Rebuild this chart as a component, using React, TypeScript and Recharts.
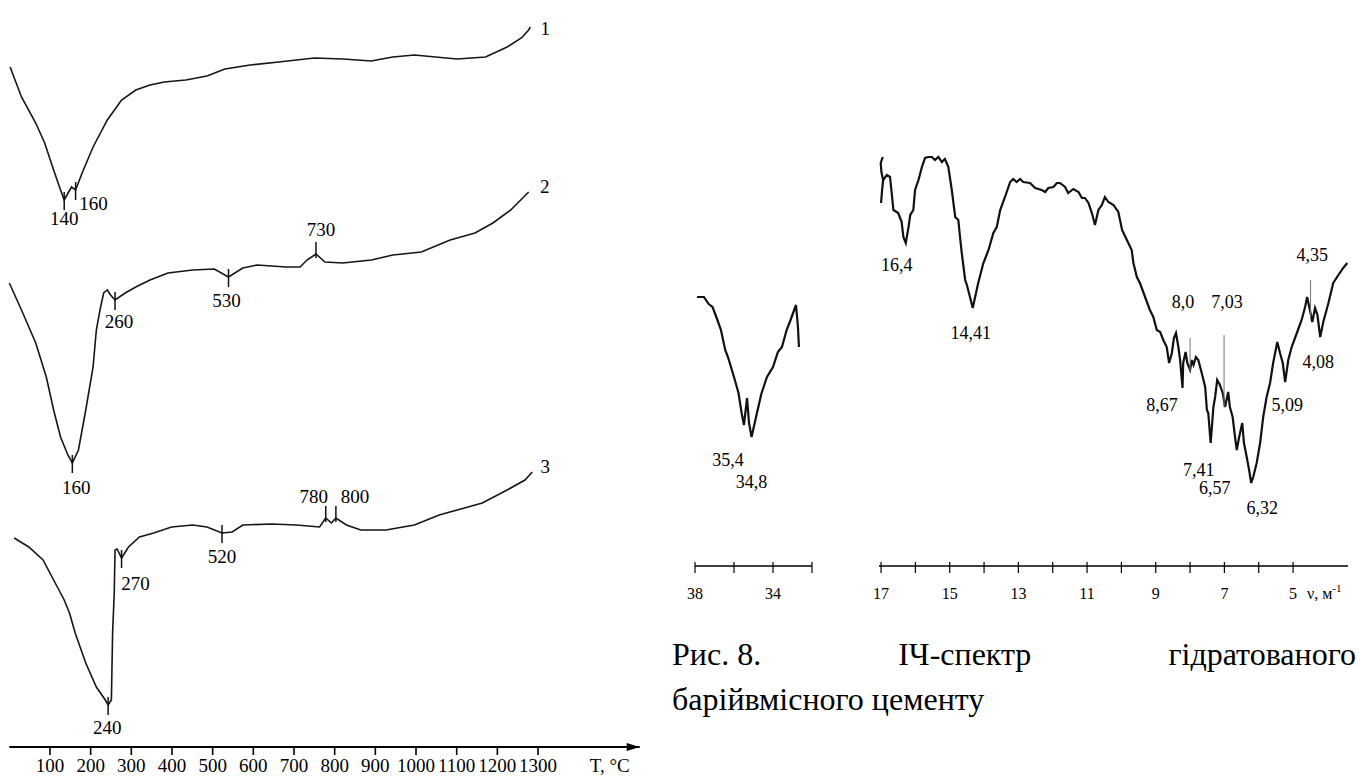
import React from "react";
import { LineChart, Line, XAxis, YAxis, ReferenceDot, ReferenceLine } from "recharts";

const SERIF = "Liberation Serif, Tinos, DejaVu Serif, serif";

// ---------- DTA curves (left): temperature, °C -> signal, arb. units
const tempTicks = [100, 200, 300, 400, 500, 600, 700, 800, 900, 1000, 1100, 1200, 1300];

const dta1: [number, number][] = [
  [2, 68.0], [30, 65.0], [65, 62.4], [87, 60.4], [109, 57.7], [126, 55.7], [135, 54.7],
  [146, 55.5], [153, 56.0], [163, 55.7], [179, 57.4], [206, 60.0], [241, 62.7], [276, 64.7],
  [311, 65.7], [346, 66.2], [381, 66.5], [434, 66.7], [486, 67.1], [530, 67.8], [592, 68.2],
  [662, 68.5], [750, 68.9], [820, 68.8], [890, 68.6], [943, 69.0], [996, 69.2], [1048, 69.0],
  [1101, 68.8], [1171, 69.0], [1224, 70.0], [1259, 70.9], [1277, 71.7], [1281, 72.0],
];

const dta2: [number, number][] = [
  [0, 46.4], [30, 43.7], [65, 40.4], [91, 37.0], [109, 33.7], [126, 31.0], [144, 29.2],
  [155, 28.4], [170, 29.7], [188, 33.7], [206, 38.0], [214, 41.7], [223, 43.7], [232, 45.4],
  [241, 45.7], [249, 45.2], [260, 44.7], [285, 45.4], [311, 46.0], [346, 46.7], [390, 47.4],
  [451, 47.7], [504, 47.8], [539, 47.0], [574, 47.9], [609, 48.2], [680, 48.0], [715, 48.0],
  [732, 48.7], [754, 49.3], [776, 48.5], [820, 48.4], [890, 48.7], [943, 49.2], [1013, 49.5],
  [1084, 50.7], [1145, 51.4], [1189, 52.4], [1233, 53.7], [1277, 55.5],
];

const dta3: [number, number][] = [
  [12, 20.9], [48, 20.0], [83, 18.7], [109, 16.7], [135, 14.7], [148, 13.4], [162, 11.4],
  [188, 8.4], [214, 6.0], [236, 4.7], [243, 4.2], [251, 4.7], [254, 11.4], [258, 15.4],
  [260, 19.7], [265, 19.8], [276, 18.9], [293, 20.0], [320, 21.0], [355, 21.4], [399, 22.0],
  [451, 22.2], [486, 22.0], [523, 21.4], [548, 21.5], [574, 22.2], [645, 22.3], [706, 22.2],
  [763, 22.0], [778, 22.9], [792, 22.4], [803, 22.9], [829, 22.2], [864, 21.7], [926, 21.7],
  [996, 22.2], [1057, 23.2], [1119, 23.9], [1163, 24.4], [1224, 25.7], [1268, 26.7], [1286, 27.5],
];

const dtaNames = ["1", "2", "3"];

// thermal effects marked on each curve
const effects1 = [
  { t: 135, s: 54.7, label: "140", kind: "min" },
  { t: 163, s: 55.7, label: "160", kind: "min" },
];
const effects2 = [
  { t: 155, s: 28.4, label: "160", kind: "min" },
  { t: 260, s: 44.7, label: "260", kind: "min" },
  { t: 539, s: 47.0, label: "530", kind: "min" },
  { t: 754, s: 49.3, label: "730", kind: "max" },
];
const effects3 = [
  { t: 243, s: 4.2, label: "240", kind: "min" },
  { t: 276, s: 18.9, label: "270", kind: "min" },
  { t: 523, s: 21.4, label: "520", kind: "min" },
  { t: 778, s: 22.9, label: "780", kind: "max" },
  { t: 803, s: 22.9, label: "800", kind: "max" },
];

// ---------- IR spectrum (right): wavenumber -> transmission, arb. units
const waveTicksA = [38, 36, 34, 32];
const waveLabelsA = [38, 34];
const waveTicksB = [17, 16, 15, 14, 13, 12, 11, 10, 9, 8, 7, 6, 5];
const waveLabelsB = [17, 15, 13, 11, 9, 7, 5];

const irA: [number, number][] = [
  [37.9, 26.9], [37.54, 26.9], [37.3, 26.2], [37.1, 25.9], [36.85, 24.6], [36.67, 23.6],
  [36.45, 21.6], [36.31, 20.9], [36.0, 18.9], [35.77, 17.3], [35.6, 15.2], [35.49, 14.1],
  [35.33, 16.8], [35.23, 14.3], [35.1, 12.9], [34.87, 14.9], [34.6, 17.2], [34.31, 18.9],
  [34.0, 19.9], [33.75, 21.4], [33.54, 21.9], [33.3, 23.6], [33.1, 24.6], [32.82, 26.1],
  [32.72, 23.9], [32.67, 21.9],
];

const irHook: [number, number][] = [
  [16.95, 40.9], [17.01, 40.3], [16.99, 39.4], [16.94, 38.6], [16.97, 37.6], [17.0, 36.3],
];

const irB: [number, number][] = [
  [16.94, 38.6], [16.83, 39.1], [16.74, 38.9], [16.69, 37.3], [16.64, 35.6], [16.5, 35.3],
  [16.4, 34.4], [16.35, 32.9], [16.28, 32.3], [16.2, 33.9], [16.15, 35.1], [16.06, 35.6],
  [16.01, 37.6], [15.91, 38.6], [15.81, 39.9], [15.72, 40.8], [15.62, 40.9], [15.52, 40.9],
  [15.43, 40.6], [15.33, 40.9], [15.23, 40.4], [15.14, 40.7], [15.04, 39.9], [14.94, 37.6],
  [14.84, 34.9], [14.75, 34.6], [14.7, 32.9], [14.65, 31.3], [14.55, 28.6], [14.5, 28.1],
  [14.41, 26.9], [14.33, 25.8], [14.26, 26.9], [14.17, 28.3], [14.02, 30.3], [13.87, 31.6],
  [13.73, 33.3], [13.63, 33.9], [13.53, 35.6], [13.39, 36.9], [13.24, 38.4], [13.15, 38.7],
  [13.05, 38.4], [12.95, 38.7], [12.86, 38.4], [12.66, 38.3], [12.51, 37.8], [12.32, 37.6],
  [12.22, 37.4], [12.13, 37.8], [11.98, 37.9], [11.88, 38.3], [11.79, 38.3], [11.64, 37.9],
  [11.55, 37.3], [11.4, 37.7], [11.25, 37.4], [11.15, 36.8], [11.06, 36.8], [10.96, 36.3],
  [10.86, 35.3], [10.77, 34.1], [10.67, 35.6], [10.57, 36.1], [10.48, 36.9], [10.38, 36.4],
  [10.23, 36.1], [10.09, 35.4], [9.98, 33.6], [9.84, 32.6], [9.7, 31.6], [9.65, 30.3],
  [9.55, 28.9], [9.46, 28.3], [9.31, 26.9], [9.17, 25.6], [9.07, 24.9], [8.97, 23.6],
  [8.87, 23.4], [8.78, 22.6], [8.68, 21.9], [8.61, 20.3], [8.53, 21.3], [8.47, 22.8],
  [8.41, 23.3], [8.34, 21.9], [8.29, 20.6], [8.22, 17.8], [8.2, 20.3], [8.13, 21.4],
  [8.08, 20.3], [8.0, 19.6], [7.95, 20.6], [7.9, 20.1], [7.83, 20.9], [7.76, 20.6],
  [7.66, 19.3], [7.56, 17.9], [7.51, 15.6], [7.47, 15.3], [7.4, 12.3], [7.32, 15.9],
  [7.27, 16.9], [7.21, 18.6], [7.13, 18.1], [7.05, 17.3], [6.98, 15.9], [6.89, 17.4],
  [6.84, 15.9], [6.76, 14.9], [6.69, 12.9], [6.64, 11.6], [6.57, 12.9], [6.48, 14.3],
  [6.43, 12.3], [6.35, 10.9], [6.28, 9.6], [6.22, 8.3], [6.16, 8.9], [6.06, 10.3],
  [5.96, 12.3], [5.87, 14.9], [5.77, 16.9], [5.67, 18.3], [5.58, 20.3], [5.46, 22.4],
  [5.38, 21.3], [5.3, 20.3], [5.23, 18.4], [5.14, 20.6], [5.04, 21.9], [4.89, 23.3],
  [4.75, 24.6], [4.65, 25.9], [4.59, 26.9], [4.51, 25.6], [4.44, 24.4], [4.36, 25.8],
  [4.29, 25.1], [4.21, 22.9], [4.12, 24.4], [3.97, 26.3], [3.83, 28.3], [3.68, 29.1],
  [3.54, 29.8], [3.42, 30.3],
];

const bandsA = [
  { w: 35.49, tr: 14.1, label: "35,4" },
  { w: 35.1, tr: 12.9, label: "34,8" },
];
const bandsB = [
  { w: 16.28, tr: 32.3, label: "16,4" },
  { w: 14.33, tr: 25.8, label: "14,41" },
  { w: 8.61, tr: 20.3, label: "8,67" },
  { w: 8.0, tr: 19.6, label: "8,0" },
  { w: 7.4, tr: 12.3, label: "7,41" },
  { w: 6.98, tr: 15.9, label: "7,03" },
  { w: 6.64, tr: 11.6, label: "6,57" },
  { w: 6.22, tr: 8.3, label: "6,32" },
  { w: 5.23, tr: 18.4, label: "5,09" },
  { w: 4.59, tr: 26.9, label: "4,35" },
  { w: 4.21, tr: 22.9, label: "4,08" },
];
// thin vertical markers drawn at some bands
const bandMarkers = [
  { w: 8.0, from: 19.4, to: 22.8 },
  { w: 7.01, from: 15.9, to: 23.1 },
  { w: 4.49, from: 24.9, to: 28.6 },
];

// label placement (px offsets from the marked point)
const effectOffsets: Record<string, [number, number]> = {
  "1-140": [0, 18], "1-160": [18, 13],
  "2-160": [4, 24], "2-260": [4, 21], "2-530": [-2, 23], "2-730": [5, -25],
  "3-240": [-1, 22], "3-270": [14, 25], "3-520": [0, 23], "3-780": [-12, -22], "3-800": [19, -22],
};
const nameOffsets: [number, number][] = [[15, 1], [16, -6], [13, -6]];
const bandOffsets: Record<string, [number, number]> = {
  "35,4": [-16, 35], "34,8": [0, 45], "16,4": [-9, 22], "14,41": [-2, 25],
  "8,67": [-7, 42], "8,0": [-7, -68], "7,41": [-12, 27], "7,03": [2, -105],
  "6,57": [-22, 38], "6,32": [11, 25], "5,09": [2, 23], "4,35": [5, -42], "4,08": [-2, 25],
};

const toTS = (a: [number, number][]) => a.map(([t, s]) => ({ t, s }));
const toW = (a: [number, number][]) => a.map(([w, tr]) => ({ w, tr }));

const TempTick = (props: any) => {
  const { x, y, payload } = props;
  return (
    <g>
      <line x1={x} x2={x} y1={y} y2={y + 8} stroke="#000" strokeWidth={1.6} />
      <text x={x} y={y + 18} dy="0.35em" textAnchor="middle" fontSize={19} fontFamily={SERIF} fill="#000">
        {payload.value}
      </text>
    </g>
  );
};

const makeWaveTick = (labelled: number[]) => (props: any) => {
  const { x, y, payload } = props;
  return (
    <g>
      <line x1={x} x2={x} y1={y - 4} y2={y + 7} stroke="#000" strokeWidth={1.2} />
      {labelled.includes(payload.value) && (
        <text x={x} y={y + 27} dy="0.35em" textAnchor="middle" fontSize={16} fontFamily={SERIF} fill="#000">
          {payload.value}
        </text>
      )}
    </g>
  );
};

const EffectMark = ({ cx, cy, kind, label, dx, dy }: any) => (
  <g>
    <line
      x1={cx}
      x2={cx}
      y1={kind === "max" ? cy - 12 : cy - 8}
      y2={kind === "max" ? cy + 4 : cy + 10}
      stroke="#111"
      strokeWidth={1.5}
    />
    <text x={cx + dx} y={cy + dy} dy="0.35em" textAnchor="middle" fontSize={19} fontFamily={SERIF} fill="#000">
      {label}
    </text>
  </g>
);

const TextMark = ({ cx, cy, label, dx, dy, size }: any) => (
  <text x={cx + dx} y={cy + dy} dy="0.35em" textAnchor="middle" fontSize={size} fontFamily={SERIF} fill="#000">
    {label}
  </text>
);

const TempUnit = (props: any) => {
  const vb = props.viewBox || {};
  const right = vb.x + vb.width;
  return (
    <text x={right - 50} y={vb.y + 18} dy="0.35em" fontSize={19} fontFamily={SERIF} fill="#000">
      T, °C
    </text>
  );
};

const WaveUnit = (props: any) => {
  const vb = props.viewBox || {};
  const right = vb.x + vb.width;
  return (
    <text x={right - 41} y={vb.y + 27} dy="0.35em" fontSize={16} fontFamily={SERIF} fill="#000">
      ν, м
      <tspan fontSize={11} dy={-7}>-1</tspan>
    </text>
  );
};

const W = 1360;
const H = 778;

const App: React.FC = () => {
  const dtaSeries = [toTS(dta1), toTS(dta2), toTS(dta3)];
  const dtaEffects = [effects1, effects2, effects3];

  return (
    <div style={{ position: "absolute", left: 0, top: 0, width: W, height: H, background: "#fff", overflow: "hidden" }}>
      {/* DTA curves */}
      <div style={{ position: "absolute", left: 0, top: 0 }}>
        <LineChart width={W} height={H} margin={{ top: 7, right: W - 639.7, bottom: 1, left: 9.3 }}>
          <XAxis
            dataKey="t"
            type="number"
            domain={[0, 1550]}
            ticks={tempTicks}
            height={30}
            tickSize={0}
            tickMargin={0}
            tick={<TempTick />}
            axisLine={{ stroke: "#000", strokeWidth: 1.8 }}
            label={<TempUnit />}
          />
          <YAxis hide type="number" domain={[0, 74]} />
          {dtaSeries.map((d, i) => (
            <Line
              key={i}
              data={d}
              dataKey="s"
              type="linear"
              stroke="#161616"
              strokeWidth={1.6}
              dot={false}
              isAnimationActive={false}
            />
          ))}
          {dtaEffects.map((list, i) =>
            list.map((e) => {
              const [dx, dy] = effectOffsets[`${i + 1}-${e.label}`];
              return (
                <ReferenceDot
                  key={`e${i}-${e.label}`}
                  x={e.t}
                  y={e.s}
                  r={0}
                  shape={(p: any) => <EffectMark cx={p.cx} cy={p.cy} kind={e.kind} label={e.label} dx={dx} dy={dy} />}
                />
              );
            })
          )}
          {dtaSeries.map((d, i) => {
            const last = d[d.length - 1];
            return (
              <ReferenceDot
                key={`n${i}`}
                x={last.t}
                y={last.s}
                r={0}
                shape={(p: any) => (
                  <TextMark cx={p.cx} cy={p.cy} label={dtaNames[i]} dx={nameOffsets[i][0]} dy={nameOffsets[i][1]} size={19} />
                )}
              />
            );
          })}
          <ReferenceDot
            x={1550}
            y={0}
            r={0}
            ifOverflow="visible"
            shape={(p: any) => (
              <polygon points={`${p.cx},${p.cy} ${p.cx - 13},${p.cy - 4} ${p.cx - 13},${p.cy + 4}`} fill="#000" />
            )}
          />
        </LineChart>
      </div>

      {/* IR spectrum, 38-32 segment */}
      <div style={{ position: "absolute", left: 0, top: 0 }}>
        <LineChart width={W} height={H} margin={{ top: 146, right: W - 812, bottom: 182, left: 695 }}>
          <XAxis
            dataKey="w"
            type="number"
            reversed
            domain={[32, 38]}
            ticks={waveTicksA}
            height={30}
            tickSize={0}
            tickMargin={0}
            tick={makeWaveTick(waveLabelsA)}
            axisLine={{ stroke: "#000", strokeWidth: 1.3 }}
          />
          <YAxis hide type="number" domain={[0, 42]} />
          <Line
            data={toW(irA)}
            dataKey="tr"
            type="linear"
            stroke="#111"
            strokeWidth={2.2}
            dot={false}
            isAnimationActive={false}
          />
          {bandsA.map((b) => {
            const [dx, dy] = bandOffsets[b.label];
            return (
              <ReferenceDot
                key={b.label}
                x={b.w}
                y={b.tr}
                r={0}
                shape={(p: any) => <TextMark cx={p.cx} cy={p.cy} label={b.label} dx={dx} dy={dy} size={18} />}
              />
            );
          })}
        </LineChart>
      </div>

      {/* IR spectrum, 17-4 segment */}
      <div style={{ position: "absolute", left: 0, top: 0 }}>
        <LineChart width={W} height={H} margin={{ top: 146, right: W - 1348, bottom: 182, left: 879 }}>
          <XAxis
            dataKey="w"
            type="number"
            reversed
            domain={[3.4, 17.06]}
            ticks={waveTicksB}
            height={30}
            tickSize={0}
            tickMargin={0}
            tick={makeWaveTick(waveLabelsB)}
            axisLine={{ stroke: "#000", strokeWidth: 1.3 }}
            label={<WaveUnit />}
          />
          <YAxis hide type="number" domain={[0, 42]} />
          <Line
            data={toW(irHook)}
            dataKey="tr"
            type="linear"
            stroke="#111"
            strokeWidth={2.2}
            dot={false}
            isAnimationActive={false}
          />
          <Line
            data={toW(irB)}
            dataKey="tr"
            type="linear"
            stroke="#111"
            strokeWidth={2.2}
            dot={false}
            isAnimationActive={false}
          />
          {bandMarkers.map((m, i) => (
            <ReferenceLine
              key={i}
              segment={[{ x: m.w, y: m.from }, { x: m.w, y: m.to }]}
              stroke="#777"
              strokeWidth={1}
            />
          ))}
          {bandsB.map((b) => {
            const [dx, dy] = bandOffsets[b.label];
            return (
              <ReferenceDot
                key={b.label}
                x={b.w}
                y={b.tr}
                r={0}
                shape={(p: any) => <TextMark cx={p.cx} cy={p.cy} label={b.label} dx={dx} dy={dy} size={18} />}
              />
            );
          })}
        </LineChart>
      </div>

      {/* caption */}
      <div
        style={{
          position: "absolute",
          left: 672,
          top: 632,
          width: 684,
          fontFamily: SERIF,
          fontSize: 32,
          lineHeight: "45px",
          color: "#000",
        }}
      >
        <div style={{ display: "flex", justifyContent: "space-between" }}>
          <span>Рис. 8.</span>
          <span>ІЧ-спектр</span>
          <span>гідратованого</span>
        </div>
        <div>барійвмісного цементу</div>
      </div>
    </div>
  );
};

export default App;
